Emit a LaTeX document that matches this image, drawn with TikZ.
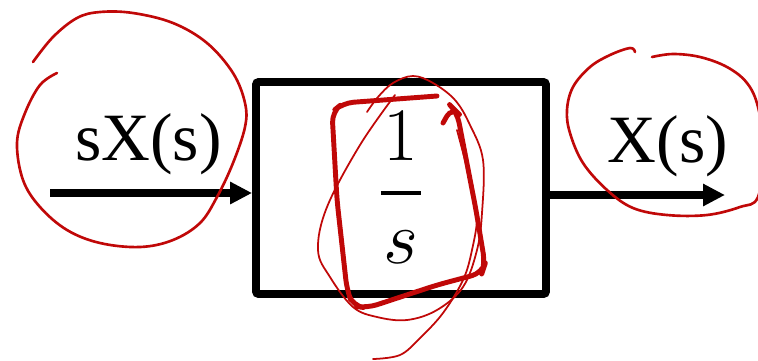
\documentclass[tikz,border=0pt]{standalone}
\usepackage{fix-cm}
\usepackage{amsmath}
\usepackage{fontspec}
\setmainfont{Liberation Serif}
\usepackage{tikz}
\usetikzlibrary{arrows.meta, calc}

\definecolor{inkred}{RGB}{192,8,8}

\begin{document}
\begin{tikzpicture}[x=0.02cm, y=-0.02cm,
    blk/.style={draw, line width=4.5pt, rounded corners=1.5pt, minimum width=5.8cm,
      minimum height=4.24cm, inner sep=0pt, font=\fontsize{43}{48}\selectfont},
    sig/.style={line width=4pt, -{Triangle[length=12.5pt, width=12pt]}},
    lbl/.style={anchor=base, inner sep=0pt, font=\fontsize{38.5}{40}\selectfont},
    ink/.style={draw=inkred, line width=1.5pt, line cap=round, line join=round},
    inkthin/.style={ink, line width=1pt},
    inkthick/.style={ink, line width=2.8pt}]
  \useasboundingbox (0,0) rectangle (758,360);
  % block and signals
  \node[blk] (sys) at (401,188)
    {$\genfrac{}{}{2.5pt}{0}{\hbox to 23pt{\hss$1$\hss}}{s}$};
  \coordinate (in) at (50,193);
  \coordinate (out) at (725,195);
  \draw[sig] (in) -- (in -| sys.west);
  \draw[sig] (out -| sys.east) -- (out);
  \node[lbl] (inlbl) at (148.5,160) {sX(s)};
  \node[lbl] (outlbl) at (668,162) {X(s)};
  % red pen marks
  \draw[ink] plot[smooth, tension=0.6] coordinates {(57,73) (40,85) (25,113) (17,143)
    (23,180) (40,207) (67,230) (100,243) (140,247) (173,240) (200,223) (217,197)
    (233,163) (245,127) (245,103) (233,73) (207,43) (173,23) (133,13) (100,12)
    (77,18) (53,37) (33,62)};
  \draw[ink] plot[smooth, tension=0.6] coordinates {(652,57) (673,54) (700,57)
    (727,67) (747,83) (758,107) (764,150) (758,197) (740,207) (707,215) (667,215)
    (633,208) (607,190) (583,163) (570,133) (567,110) (573,87) (590,67) (610,55)
    (630,48) (635,52)};
  \draw[inkthick, rounded corners=6pt] (437,96) -- (343,103) -- (332,112) -- (337,200)
    -- (347,290) -- (353,306) -- (367,308) -- (437,285) -- (482,273) -- (485,264)
    -- (476,210) -- (457,112) -- (452,107) -- (443,123);
  \draw[inkthin] plot[smooth, tension=0.6] coordinates {(395,95) (360,145) (327,207)
    (318,250) (330,277) (353,307) (377,317) (407,320) (437,310) (463,287) (477,250)
    (482,213) (483,160) (470,125) (455,100) (433,83) (413,76) (393,83) (378,97)
    (367,112)};
  \draw[inkthin] plot[smooth, tension=0.6] coordinates {(457,130) (470,180) (477,215)
    (472,250) (463,280) (443,313) (420,338) (400,355) (373,359)};
\end{tikzpicture}
\end{document}
